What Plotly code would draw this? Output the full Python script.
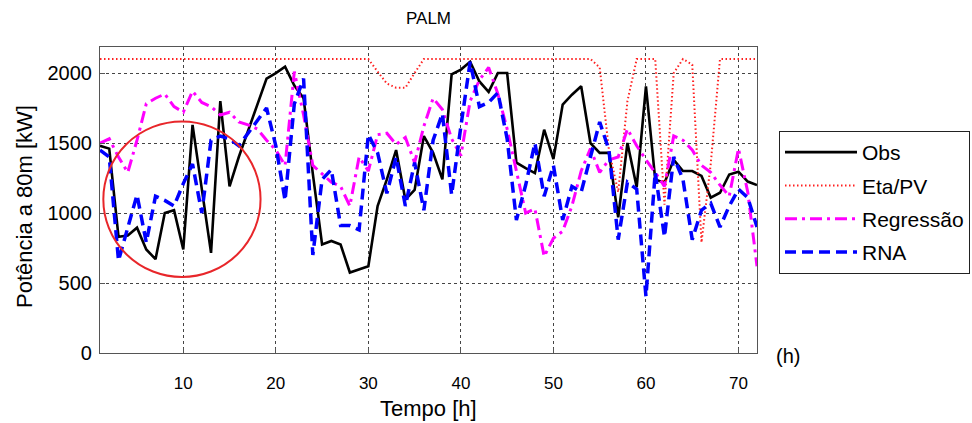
import plotly.graph_objects as go

# ---------------- data ----------------
hours = list(range(1, 73))

obs = [1480, 1460, 830, 840, 895, 740, 670, 1000, 1020, 740,
       1630, 1180, 715, 1800, 1190, 1400, 1590, 1780, 1960, 2000,
       2045, 1910, 1820, 1280, 775, 800, 775, 575, 600, 620,
       1050, 1240, 1450, 1095, 1165, 1550, 1430, 1240, 1990, 2025,
       2080, 1940, 1865, 2000, 2000, 1360, 1320, 1285, 1595, 1385,
       1775, 1845, 1905, 1500, 1430, 1430, 970, 1500, 1185, 1905,
       1240, 1215, 1380, 1300, 1300, 1265, 1110, 1145, 1275, 1295,
       1225, 1200]

eta_pv = [2100, 2100, 2100, 2100, 2100, 2100, 2100, 2100, 2100, 2100,
          2100, 2100, 2100, 2100, 2100, 2100, 2100, 2100, 2100, 2100,
          2100, 2100, 2100, 2100, 2100, 2100, 2100, 2100, 2100, 2100,
          2010, 1925, 1895, 1895, 2000, 2100, 2100, 2100, 2100, 2100,
          2100, 2100, 2100, 2100, 2100, 2100, 2100, 2100, 2100, 2100,
          2100, 2100, 2100, 2100, 2040, 1450, 1150, 1800, 2100, 2100,
          2100, 1060, 2000, 2100, 2060, 790, 1350, 2100, 2100, 2100,
          2100, 2100]

regressao = [1500, 1530, 1400, 1290, 1520, 1780, 1820, 1850, 1760, 1720,
             1870, 1790, 1760, 1700, 1720, 1650, 1630, 1600, 1520, 1450,
             1340, 2010, 1700, 1340, 1280, 1220, 1190, 1050, 1400, 1300,
             1560, 1570, 1490, 1540, 1360, 1620, 1820, 1740, 1530, 1410,
             1800, 1950, 2040, 1850, 1600, 1300, 1000, 1030, 690, 820,
             870, 1050, 1300, 1460, 1290, 1380, 1400, 1600, 1480, 1380,
             1290, 1190, 1550, 1520, 1450, 1340, 1290, 1200, 1120, 1460,
             1150, 620]

rna = [1450, 1400, 660, 900, 1130, 790, 1120, 1090, 1050, 1210,
       1350, 1000, 1520, 1550, 1530, 1480, 1570, 1660, 1750, 1480,
       1090, 1780, 1960, 700, 1240, 1310, 910, 910, 880, 1560,
       1430, 1140, 1400, 1050, 1360, 1020, 1520, 1710, 1130, 1620,
       2080, 1760, 1790, 1860, 1530, 950, 1200, 1500, 1120, 1340,
       950, 1190, 1150, 1400, 1650, 1450, 810, 1220, 1170, 405,
       1290, 830, 1400, 1240, 810, 1020, 1070, 900, 1050, 1170,
       1110, 900]

x_ticks = [10, 20, 30, 40, 50, 60, 70]
y_ticks = [0, 500, 1000, 1500, 2000]
x_range = [1, 72]
y_range = [0, 2186]

# highlight ellipse (data coordinates)
circle_x = [1.36, 18.35]
circle_y = [543, 1654]

FONT = "Liberation Sans, Arial, Helvetica, sans-serif"
AXC = "#555555"

fig = go.Figure()
fig.add_trace(go.Scatter(x=hours, y=obs, name="Obs", mode="lines",
                         legendgroup="g1",
                         line=dict(color="black", width=2.6)))
fig.add_trace(go.Scatter(x=hours, y=eta_pv, name="Eta/PV", mode="lines",
                         legendgroup="g2",
                         line=dict(color="#ff2020", width=2, dash="1.5px,2.5px")))
fig.add_trace(go.Scatter(x=hours, y=regressao, name="Regressão", mode="lines",
                         legendgroup="g3",
                         line=dict(color="#ff00ff", width=3, dash="12px,5px,3px,5px")))
fig.add_trace(go.Scatter(x=hours, y=rna, name="RNA", mode="lines",
                         legendgroup="g4",
                         line=dict(color="#0000ff", width=3.5, dash="11px,6px")))

fig.add_shape(type="circle", xref="x", yref="y",
              x0=circle_x[0], x1=circle_x[1], y0=circle_y[0], y1=circle_y[1],
              line=dict(color="#e8262a", width=2), layer="above")

axis_common = dict(showgrid=True, griddash="dot", gridcolor="#444444", gridwidth=1,
                   showline=True, linecolor=AXC, linewidth=1.2, mirror=True,
                   ticks="inside", ticklen=5, tickcolor=AXC, zeroline=False)

fig.update_xaxes(range=x_range, tickvals=x_ticks, ticktext=[str(v) for v in x_ticks],
                 tickfont=dict(size=17, color="black", family=FONT),
                 ticklabelstandoff=14, **axis_common)
fig.update_yaxes(range=y_range, tickvals=y_ticks, ticktext=[str(v) for v in y_ticks],
                 tickfont=dict(size=20, color="black", family=FONT),
                 ticklabelstandoff=3, **axis_common)

fig.update_layout(
    width=972, height=423,
    margin=dict(l=100, r=215, t=47, b=70, autoexpand=False),
    paper_bgcolor="white", plot_bgcolor="white",
    font=dict(family=FONT, color="black"),
    title=dict(text="PALM", x=0.5, xref="paper", y=1 - 18 / 423, yref="container",
               xanchor="center", yanchor="middle", font=dict(size=17, family=FONT)),
    showlegend=True,
    legend=dict(x=(779 - 100) / 657, y=(353 - 131) / 306, xanchor="left", yanchor="top",
                bordercolor="#222222", borderwidth=1, bgcolor="white",
                font=dict(size=21, family=FONT), itemwidth=72,
                traceorder="grouped", tracegroupgap=3),
    annotations=[
        dict(text="Tempo [h]", xref="paper", yref="paper", x=0.5, y=(353 - 408) / 306,
             xanchor="center", yanchor="middle", showarrow=False,
             font=dict(size=22, family=FONT)),
        dict(text="Potência a 80m [kW]", xref="paper", yref="paper",
             x=(25 - 100) / 657, y=(353 - 207) / 306, textangle=-90,
             xanchor="center", yanchor="middle", showarrow=False,
             font=dict(size=22, family=FONT)),
        dict(text="(h)", xref="paper", yref="paper", x=(788 - 100) / 657,
             y=(353 - 356) / 306, xanchor="center", yanchor="middle", showarrow=False,
             font=dict(size=20, family=FONT)),
    ],
)

fig.write_html("out.html",
               config={"displayModeBar": False},
               post_script="document.body.style.margin='0px';"
                           "document.body.style.padding='0px';"
                           "document.body.style.overflow='hidden';")
